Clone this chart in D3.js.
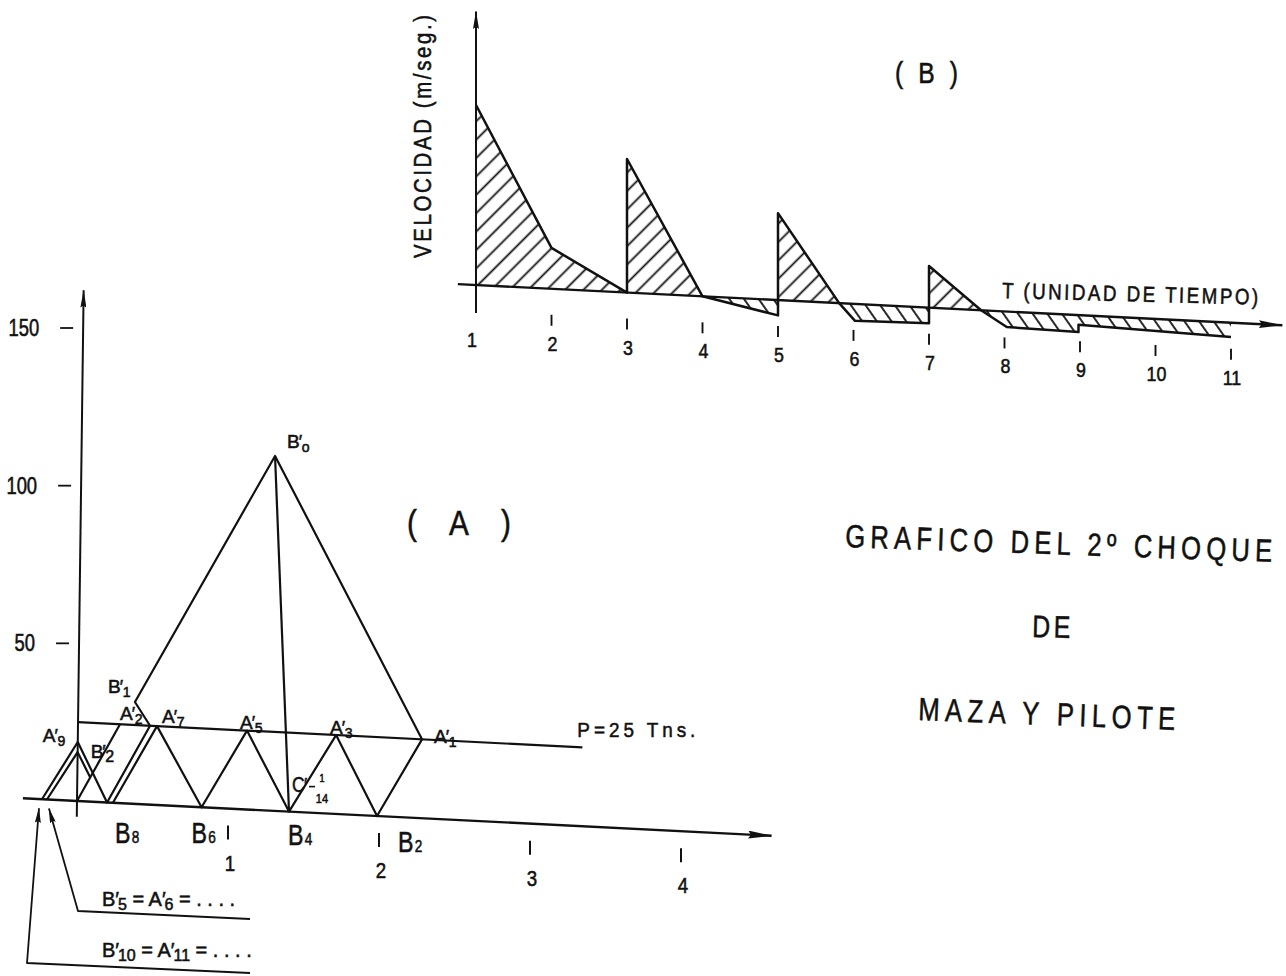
<!DOCTYPE html>
<html>
<head>
<meta charset="utf-8">
<title>Gráfico del 2º choque de maza y pilote</title>
<script src="https://cdn.jsdelivr.net/npm/d3@7/dist/d3.min.js"></script>
<style>
  html, body { margin: 0; padding: 0; background: #fff; }
  svg { display: block; }
  text { font-family: "Liberation Sans", Arial, "DejaVu Sans", sans-serif; fill: #111; stroke: #111; stroke-width: 0.55px; }
</style>
</head>
<body>
<svg id="chart" width="1286" height="976"></svg>
<script>
// ---------------- (A) force on the pile vs time ----------------
const forceTicks = [50, 100, 150];
const timeTicksA = [1, 2, 3, 4];
const loadP = 25;

// reflected wave: foot -> A'9 -> B8 -> A'2 -> B'1 -> B'0 -> A'1 -> B2 -> A'3 -> B4 -> A'5 -> B6 -> A'7 -> B8
const waveT = [-0.232, 0.0, 0.199, 0.477, 0.375, 1.281, 2.278, 1.987, 1.709, 1.404, 1.119, 0.825, 0.523, 0.238];
const waveF = [0, 18.7, 0, 25, 32.3, 112.5, 25, 0, 25, 0, 25, 0, 25, 0];
// inner crest at A'9
const innerT = [-0.199, 0.0, 0.084];
const innerF = [0, 15.5, 7.8];
// B'2 ray from the origin up to the load line
const rayT = [0.0, 0.278];
const rayF = [0, 25];
// drop from B'0 down to B4
const dropT = [1.281, 1.404];
const dropF = [112.5, 0];

// ---------------- (B) velocity vs time ----------------
const timeTicksB = [1, 2, 3, 4, 5, 6, 7, 8, 9, 10, 11];
const velT = [1, 2, 3, 3, 4, 5, 5, 5.81, 6.02, 7, 7, 7.69, 8.03, 8.98, 8.98, 11];
const velV = [10, 2.27, 0, 7.42, 0, -0.85, 4.83, 0, -0.94, -0.86, 2.31, 0, -0.86, -0.94, -0.54, -0.79];

// ---------------- drawing ----------------
const ink = "#111";
const svg = d3.select("#chart");
const defs = svg.append("defs");

function arrowMarker(id, len, wid) {
  defs.append("marker")
    .attr("id", id)
    .attr("viewBox", `0 0 ${len} ${wid}`)
    .attr("refX", len - 0.5).attr("refY", wid / 2)
    .attr("markerWidth", len).attr("markerHeight", wid)
    .attr("markerUnits", "userSpaceOnUse")
    .attr("orient", "auto")
    .append("path")
    .attr("d", `M0,0L${len},${wid / 2}L0,${wid}L${len * 0.12},${wid / 2}Z`)
    .attr("fill", ink);
}
arrowMarker("arrowLong", 24, 8);
arrowMarker("arrowThin", 18, 6);
arrowMarker("arrowCallout", 15, 6);

function hatch(id, angle, gap) {
  const p = defs.append("pattern")
    .attr("id", id)
    .attr("patternUnits", "userSpaceOnUse")
    .attr("width", gap).attr("height", gap)
    .attr("patternTransform", `rotate(${angle})`);
  p.append("line")
    .attr("x1", gap / 2).attr("y1", -1)
    .attr("x2", gap / 2).attr("y2", gap + 1)
    .attr("stroke", ink).attr("stroke-width", 1.8);
}
hatch("hatchPos", 45, 13);
hatch("hatchNeg", -35, 12);

const stroke = (sel, w = 2.2) => sel
  .attr("fill", "none").attr("stroke", ink)
  .attr("stroke-width", w).attr("stroke-linejoin", "round").attr("stroke-linecap", "butt");

// narrow technical lettering
function letter(g, str, o) {
  const sx = o.sx ?? 0.85;
  const t = g.append("text")
    .attr("transform", `translate(${o.x},${o.y}) rotate(${o.rot || 0}) scale(${sx},1)`)
    .attr("text-anchor", o.anchor || "start")
    .style("font-size", o.size + "px")
    .text(str);
  if (o.width) t.attr("textLength", o.width / sx).attr("lengthAdjust", "spacing");
  return t;
}

// letter with prime and subscript, e.g. B'o, A'9, B8
function nodeLabel(g, x, y, d) {
  const sx = d.sx ?? 1;
  const grp = g.append("g").attr("transform", `translate(${x},${y}) scale(${sx},1)`);
  const m = grp.append("text").style("font-size", d.size + "px").text(d.main);
  const w = m.node().getComputedTextLength();
  let off = w;
  if (d.prime) {
    grp.append("text").attr("x", w - 1).attr("y", 0)
      .style("font-size", (d.size * 0.95) + "px").text("′");
    off = w + 1;
  }
  if (d.sub) {
    grp.append("text").attr("x", off + (d.prime ? 1 : 1.5)).attr("y", d.subDy ?? 4)
      .style("font-size", (d.subSize || d.size * 0.74) + "px").text(d.sub);
  }
  return grp;
}

// mixed text with primes and subscripts in one line
function richText(g, x, y, size, parts) {
  const t = g.append("text").attr("x", x).attr("y", y).style("font-size", size + "px");
  let shift = 0, lastPrimeW = 0;
  parts.forEach(([s, kind]) => {
    const sp = t.append("tspan");
    if (kind === "p") {
      sp.attr("dy", -shift).style("font-size", size + "px").text(s);
      shift = 0;
      lastPrimeW = sp.node().getComputedTextLength();
    } else if (kind === "s") {
      sp.attr("dy", 4 - shift).attr("dx", -lastPrimeW * 0.3).style("font-size", (size * 0.8) + "px").text(s);
      shift = 4;
    } else {
      sp.attr("dy", -shift).style("font-size", size + "px").text(s);
      shift = 0;
    }
  });
  return t;
}

// ---------- chart (A) ----------
const xA = d3.scaleLinear().domain([0, 4]).range([77, 681]);
const fA = d3.scaleLinear().domain([0, 150]).range([801, 328]);
// the sheet is drawn slightly sheared: baseline drops to the right, force axis leans right
const pA = (t, F) => {
  const X = xA(t), Y = fA(F);
  return [X + 0.013 * (fA(0) - Y), Y + 0.05 * (X - xA(0))];
};
const lineA = d3.line().x(d => pA(d[0], d[1])[0]).y(d => pA(d[0], d[1])[1]);
const gA = svg.append("g").attr("class", "chart-a");

// time axis and force axis
gA.append("path").datum([[-0.358, 0], [4.6, 0]]).attr("d", lineA).call(stroke, 2.4)
  .attr("marker-end", "url(#arrowLong)");
gA.append("path").datum([[0, -5], [0, 162]]).attr("d", lineA).call(stroke, 2.0)
  .attr("marker-end", "url(#arrowThin)");

forceTicks.forEach(F => {
  const [x, y] = pA(0, F);
  gA.append("line").attr("x1", x - 23).attr("x2", x - 10).attr("y1", y).attr("y2", y).call(stroke, 1.8);
  letter(gA, String(F), { x: x - 44, y: y + 8, size: 23, anchor: "end", sx: 0.8 });
});

timeTicksA.forEach(t => {
  const [x, y] = pA(t, 0);
  gA.append("line").attr("x1", x).attr("x2", x).attr("y1", y + 17).attr("y2", y + 31).call(stroke, 2.0);
  letter(gA, String(t), { x: x + 2, y: y + 62, size: 22, anchor: "middle", sx: 0.85 });
});

// load line P
const pEnd = 3.34;
gA.append("path").datum([[0, loadP], [pEnd, loadP]]).attr("d", lineA).call(stroke, 2.2);
{
  const [x, y] = pA(pEnd, loadP);
  letter(gA, `P=${loadP} Tns.`, { x: x - 5, y: y - 10, size: 21, sx: 0.9, width: 118 });
}

// construction lines
[[waveT, waveF], [innerT, innerF], [rayT, rayF], [dropT, dropF]].forEach(([T, F]) => {
  gA.append("path").datum(d3.zip(T, F)).attr("d", lineA).call(stroke, 2.2);
});

// node labels
const nodeLabels = [
  { main: "B", prime: true, sub: "o", at: [1.281, 112.5], dx: 12, dy: -8, size: 19 },
  { main: "B", prime: true, sub: "1", at: [0.375, 32.3], dx: -27, dy: -9, size: 19 },
  { main: "A", prime: true, sub: "2", at: [0.477, 25], dx: -30, dy: -6, size: 19 },
  { main: "A", prime: true, sub: "7", at: [0.523, 25], dx: 5, dy: -3, size: 19 },
  { main: "A", prime: true, sub: "5", at: [1.119, 25], dx: -7, dy: -2, size: 19 },
  { main: "A", prime: true, sub: "3", at: [1.709, 25], dx: -6, dy: -1, size: 19 },
  { main: "A", prime: true, sub: "1", at: [2.278, 25], dx: 12, dy: 4, size: 19 },
  { main: "A", prime: true, sub: "9", at: [0, 18.7], dx: -35, dy: 0, size: 19 },
  { main: "B", prime: true, sub: "2", at: [0, 15.5], dx: 13, dy: 6, size: 19, subSize: 16 },
  { main: "B", sub: "8", at: [0.199, 0], dx: 8, dy: 40, size: 29, sx: 0.8, subSize: 17, subDy: 0 },
  { main: "B", sub: "6", at: [0.825, 0], dx: -10, dy: 36, size: 29, sx: 0.8, subSize: 17, subDy: 0 },
  { main: "B", sub: "4", at: [1.404, 0], dx: -1, dy: 33, size: 29, sx: 0.8, subSize: 17, subDy: 0 },
  { main: "B", sub: "2", at: [1.987, 0], dx: 21, dy: 36, size: 29, sx: 0.8, subSize: 17, subDy: 0 },
];
nodeLabels.forEach(d => {
  const [x, y] = pA(d.at[0], d.at[1]);
  nodeLabel(gA, x + d.dx, y + d.dy, d);
});

// C' = 1/14 mark beside B4
{
  const [x, y] = pA(1.404, 0);
  nodeLabel(gA, x + 3, y - 20, { main: "C", prime: true, size: 22, sx: 0.8 });
  gA.append("line").attr("x1", x + 20).attr("x2", x + 26).attr("y1", y - 25).attr("y2", y - 25).call(stroke, 1.6);
  letter(gA, "1", { x: x + 33, y: y - 30, size: 10, anchor: "middle", sx: 0.9 });
  letter(gA, "14", { x: x + 33, y: y - 9, size: 13, anchor: "middle", sx: 0.85 });
}

// callouts for the repeated values at the start
{
  const [ix, iy] = pA(-0.199, 0);
  const [ox, oy] = pA(-0.232, 0);
  gA.append("path").datum([[250, 919], [78, 911], [ix + 2, iy + 9]])
    .attr("d", d3.line()).call(stroke, 1.8).attr("marker-end", "url(#arrowCallout)");
  gA.append("path").datum([[250, 973], [27, 963], [ox - 3, oy + 9]])
    .attr("d", d3.line()).call(stroke, 1.8).attr("marker-end", "url(#arrowCallout)");
  richText(gA, 102, 906, 20, [["B"], ["′", "p"], ["5", "s"], [" = A"], ["′", "p"], ["6", "s"], [" = . . . ."]]);
  richText(gA, 102, 957, 20, [["B"], ["′", "p"], ["10", "s"], [" = A"], ["′", "p"], ["11", "s"], [" = . . . ."]]);
}

letter(svg, "( A )", { x: 407, y: 535, size: 35, width: 104 });

// ---------- chart (B) ----------
const xB = d3.scaleLinear().domain([1, 11]).range([476, 1231]);
const vB = d3.scaleLinear().domain([0, 15]).range([285, 15]);
const pB = (t, v) => {
  const X = xB(t);
  return [X, vB(v) + 0.05 * (X - xB(1))];
};
const gB = svg.append("g").attr("class", "chart-b");
const velData = d3.zip(velT, velV);

const areaB = sign => d3.area()
  .x(d => xB(d[0]))
  .y0(d => pB(d[0], 0)[1])
  .y1(d => pB(d[0], sign > 0 ? Math.max(d[1], 0) : Math.min(d[1], 0))[1]);
gB.append("path").datum(velData).attr("d", areaB(1)).attr("fill", "url(#hatchPos)");
gB.append("path").datum(velData).attr("d", areaB(-1)).attr("fill", "url(#hatchNeg)");

const lineB = d3.line().x(d => pB(d[0], d[1])[0]).y(d => pB(d[0], d[1])[1]);
gB.append("path").datum(velData).attr("d", lineB).call(stroke, 2.5);

// axes
gB.append("path").datum([[0.76, 0], [11.68, 0]]).attr("d", lineB).call(stroke, 2.4)
  .attr("marker-end", "url(#arrowLong)");
gB.append("path").datum([[1, -1.55], [1, 15.2]]).attr("d", lineB).call(stroke, 2.0)
  .attr("marker-end", "url(#arrowThin)");

timeTicksB.forEach(t => {
  const [x, y] = pB(t, 0);
  if (t > 1) gB.append("line").attr("x1", x).attr("x2", x).attr("y1", y + 26).attr("y2", y + 37).call(stroke, 1.9);
  letter(gB, String(t), { x: t === 1 ? x - 4 : x + 1, y: y + 62, size: 21, anchor: "middle", sx: 0.85 });
});

letter(svg, "VELOCIDAD (m/seg.)", { x: 431, y: 258, rot: -90, size: 24, width: 243 });
letter(svg, "( B )", { x: 895, y: 83, size: 29, width: 63 });
letter(svg, "T (UNIDAD DE TIEMPO)", { x: 1002, y: 298, rot: 1.5, size: 22, width: 256 });

// ---------- title ----------
letter(svg, "GRAFICO DEL 2º CHOQUE", { x: 845, y: 547, rot: 2, size: 32, width: 427, sx: 0.8 });
letter(svg, "DE", { x: 1032, y: 637, rot: 1.5, size: 31, width: 38, sx: 0.8 });
letter(svg, "MAZA Y PILOTE", { x: 918, y: 720, rot: 2.2, size: 32, width: 257, sx: 0.8 });
</script>
</body>
</html>
